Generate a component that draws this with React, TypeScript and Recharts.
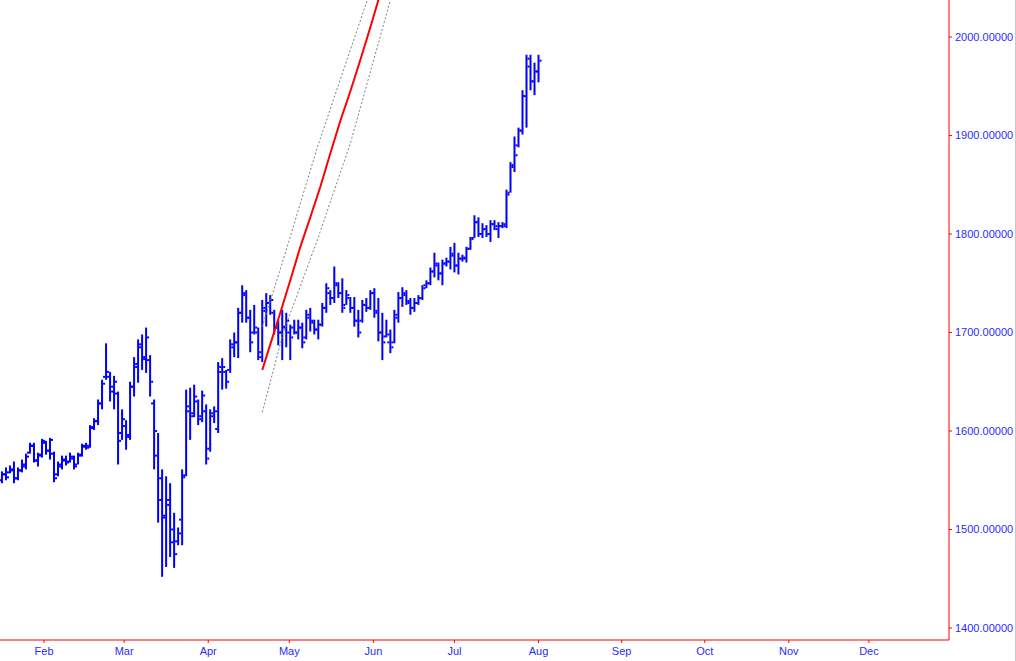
import React from "react";
import { ComposedChart, Bar, Line, XAxis, YAxis } from "recharts";

// daily bars (one bar per trading day)
const highs = [
  1559, 1563, 1565, 1569, 1563, 1571, 1577, 1588, 1588, 1578, 1592, 1590, 1593, 1579, 1569, 1575, 1575, 1578, 1575, 1578,
  1587, 1588, 1606, 1613, 1632, 1652, 1689, 1660, 1656, 1640, 1622, 1611, 1650, 1675, 1693, 1698, 1705, 1677, 1632, 1598,
  1561, 1554, 1547, 1517, 1502, 1561, 1642, 1644, 1647, 1632, 1641, 1627, 1622, 1625, 1670, 1674, 1662, 1693, 1700, 1725,
  1748, 1743, 1723, 1728, 1705, 1733, 1740, 1738, 1723, 1713, 1723, 1720, 1708, 1713, 1713, 1710, 1723, 1725, 1713, 1713,
  1730, 1750, 1743, 1767, 1751, 1755, 1743, 1736, 1736, 1723, 1733, 1735, 1743, 1745, 1735, 1720, 1713, 1703, 1723, 1741,
  1746, 1743, 1735, 1735, 1738, 1748, 1753, 1766, 1781, 1771, 1774, 1776, 1787, 1791, 1781, 1779, 1787, 1797, 1819, 1817,
  1811, 1809, 1814, 1814, 1812, 1812, 1845, 1873, 1899, 1908, 1946, 1982, 1982, 1974, 1982,
];
const lows = [
  1547, 1550, 1557, 1547, 1550, 1558, 1561, 1577, 1568, 1564, 1573, 1576, 1571, 1548, 1554, 1561, 1565, 1568, 1561, 1566,
  1574, 1581, 1583, 1601, 1606, 1622, 1652, 1630, 1622, 1566, 1591, 1581, 1591, 1635, 1649, 1662, 1659, 1635, 1561, 1507,
  1452, 1462, 1472, 1461, 1484, 1484, 1554, 1591, 1614, 1606, 1609, 1566, 1579, 1608, 1598, 1642, 1643, 1659, 1675, 1674,
  1710, 1710, 1680, 1698, 1672, 1670, 1706, 1718, 1698, 1687, 1672, 1685, 1672, 1698, 1693, 1684, 1693, 1701, 1698, 1693,
  1706, 1720, 1728, 1730, 1735, 1720, 1728, 1720, 1706, 1695, 1710, 1721, 1723, 1715, 1691, 1672, 1695, 1679, 1689, 1710,
  1726, 1728, 1718, 1721, 1728, 1733, 1745, 1748, 1756, 1753, 1748, 1767, 1764, 1761, 1759, 1772, 1771, 1784, 1796, 1797,
  1796, 1797, 1792, 1804, 1796, 1806, 1806, 1842, 1863, 1888, 1901, 1908, 1946, 1941, 1954,
];
const opens = [
  1550, 1556, 1558, 1560, 1552, 1560, 1564, 1578, 1585, 1570, 1576, 1588, 1580, 1577, 1556, 1564, 1570, 1569, 1572, 1566,
  1576, 1584, 1585, 1604, 1610, 1628, 1655, 1655, 1640, 1638, 1598, 1605, 1596, 1645, 1665, 1685, 1673, 1672, 1628, 1575,
  1552, 1512, 1525, 1500, 1488, 1510, 1555, 1625, 1618, 1630, 1615, 1620, 1582, 1618, 1602, 1660, 1660, 1662, 1685, 1690,
  1720, 1738, 1715, 1700, 1700, 1675, 1722, 1730, 1720, 1705, 1700, 1705, 1700, 1705, 1700, 1705, 1695, 1715, 1710, 1703,
  1708, 1725, 1740, 1735, 1748, 1740, 1728, 1735, 1725, 1712, 1712, 1728, 1725, 1740, 1722, 1700, 1696, 1690, 1690, 1715,
  1735, 1738, 1730, 1725, 1730, 1735, 1748, 1750, 1762, 1768, 1760, 1770, 1772, 1778, 1768, 1775, 1775, 1785, 1796, 1812,
  1800, 1805, 1800, 1810, 1805, 1808, 1808, 1842, 1870, 1890, 1905, 1940, 1970, 1955, 1965,
];
const closes = [
  1556, 1553, 1561, 1552, 1560, 1566, 1574, 1585, 1570, 1575, 1590, 1580, 1591, 1552, 1566, 1571, 1568, 1574, 1564, 1575,
  1585, 1583, 1603, 1610, 1628, 1648, 1660, 1645, 1650, 1590, 1612, 1594, 1645, 1668, 1688, 1675, 1695, 1650, 1600, 1530,
  1514, 1530, 1487, 1475, 1496, 1553, 1620, 1615, 1635, 1612, 1636, 1572, 1615, 1620, 1665, 1665, 1650, 1688, 1690, 1720,
  1740, 1715, 1690, 1705, 1680, 1725, 1730, 1733, 1705, 1700, 1706, 1712, 1695, 1700, 1705, 1690, 1718, 1712, 1703, 1708,
  1725, 1745, 1735, 1750, 1740, 1725, 1738, 1725, 1712, 1700, 1728, 1725, 1740, 1720, 1700, 1690, 1698, 1685, 1718, 1735,
  1740, 1732, 1725, 1730, 1735, 1745, 1750, 1762, 1770, 1760, 1770, 1772, 1780, 1768, 1775, 1776, 1785, 1795, 1812, 1800,
  1805, 1800, 1810, 1808, 1808, 1810, 1840, 1868, 1880, 1905, 1940, 1978, 1955, 1965, 1976,
];

// red projection line and its dashed channel (x in trading-day index)
const trendX = [65, 67, 69.5, 72, 74.5, 77, 79.5, 82, 84.5, 87, 89.5, 92, 94];
const trendY = [1662, 1688, 1720, 1753, 1787, 1817, 1848, 1882, 1915, 1945, 1977, 2010, 2037.6];
const upperX = [65, 70.25, 78.75, 87, 91.25];
const upperY = [1706, 1774, 1888, 1987, 2037.6];
const lowerX = [65, 70.25, 78.75, 87, 97];
const lowerY = [1619, 1700, 1794, 1892, 2037.6];

const monthTicks = [10.5, 30.5, 51.5, 71.75, 92.75, 113, 134, 154.75, 175.5, 196.5, 216.5];
const monthNames = ["Feb", "Mar", "Apr", "May", "Jun", "Jul", "Aug", "Sep", "Oct", "Nov", "Dec"];
const priceTicks = [1400, 1500, 1600, 1700, 1800, 1900, 2000];

const bars = highs.map((h, i) => ({
  idx: i,
  range: [lows[i], h],
  high: h,
  low: lows[i],
  open: opens[i],
  close: closes[i],
}));
const trend = trendX.map((x, i) => ({ idx: x, v: trendY[i] }));
const upper = upperX.map((x, i) => ({ idx: x, v: upperY[i] }));
const lower = lowerX.map((x, i) => ({ idx: x, v: lowerY[i] }));

const BLUE = "#0000ff";
const FONT = "'Liberation Sans', Arial, sans-serif";

function OhlcShape(props: any) {
  const { x, y, width, height, payload } = props;
  if (x == null || y == null) return null;
  const top = Math.min(y, y + height);
  const h = Math.max(Math.abs(height), 1);
  const cx = x + width / 2;
  const span = payload.high - payload.low || 1;
  const oy = top + ((payload.high - payload.open) / span) * h;
  const cy = top + ((payload.high - payload.close) / span) * h;
  return (
    <g>
      <rect x={cx - 1} y={top} width={2} height={h} fill={BLUE} />
      <rect x={cx - 3} y={oy - 1} width={2} height={2} fill={BLUE} />
      <rect x={cx + 1} y={cy - 1} width={2} height={2} fill={BLUE} />
    </g>
  );
}

const noDot = () => <g />;

export default function App() {
  return (
    <div
      style={{
        position: "fixed",
        left: 0,
        top: 0,
        width: 1016,
        height: 661,
        background: "#fff",
        borderRight: "1px solid #c8c8c8",
        boxSizing: "border-box",
      }}
    >
      <ComposedChart width={1016} height={661} data={bars} margin={{ top: 0, right: 0, left: 0, bottom: 0 }}>
        <XAxis
          dataKey="idx"
          type="number"
          domain={[-0.5, 236.5]}
          allowDataOverflow
          ticks={monthTicks}
          interval={0}
          tickFormatter={(v: number) => monthNames[monthTicks.indexOf(v)] ?? ""}
          height={21}
          axisLine={{ stroke: "#ff0000", strokeWidth: 1 }}
          tickLine={{ stroke: "#ff0000" }}
          tickSize={3}
          tickMargin={4}
          tick={{ fill: "#2a2aff", fontSize: 11, fontFamily: FONT }}
        />
        <YAxis
          orientation="right"
          type="number"
          domain={[1387.8, 2037.6]}
          allowDataOverflow
          ticks={priceTicks}
          interval={0}
          tickFormatter={(v: number) => v.toFixed(5)}
          width={67}
          axisLine={{ stroke: "#ff0000", strokeWidth: 1 }}
          tickLine={{ stroke: "#ff0000" }}
          tickSize={3}
          tickMargin={3}
          tick={{ fill: "#2a2aff", fontSize: 11, fontFamily: FONT, textAnchor: "start" }}
        />
        <Bar dataKey="range" barSize={2} shape={OhlcShape} isAnimationActive={false} />
        <Line
          data={upper}
          dataKey="v"
          type="linear"
          stroke="#808080"
          strokeWidth={1}
          strokeDasharray="2 2"
          dot={noDot}
          activeDot={false}
          isAnimationActive={false}
        />
        <Line
          data={lower}
          dataKey="v"
          type="linear"
          stroke="#808080"
          strokeWidth={1}
          strokeDasharray="2 2"
          dot={noDot}
          activeDot={false}
          isAnimationActive={false}
        />
        <Line
          data={trend}
          dataKey="v"
          type="linear"
          stroke="#ff0000"
          strokeWidth={2}
          dot={noDot}
          activeDot={false}
          isAnimationActive={false}
        />
      </ComposedChart>
    </div>
  );
}
